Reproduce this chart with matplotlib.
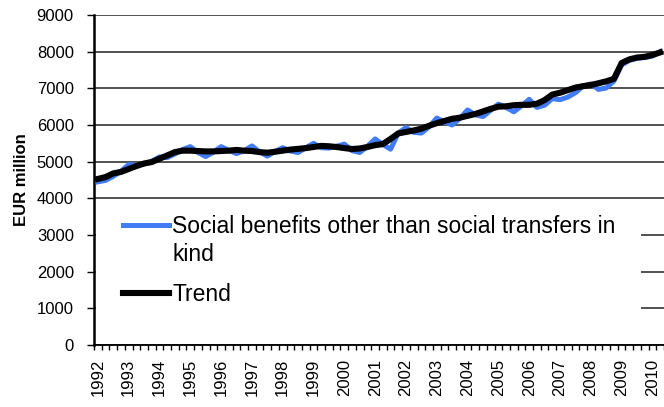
import matplotlib
matplotlib.use('Agg')
import matplotlib.pyplot as plt
from matplotlib.patches import Rectangle
from matplotlib.ticker import FixedLocator, NullFormatter
from matplotlib.legend_handler import HandlerLine2D
import numpy as np

plt.rcParams['font.family'] = ['Liberation Sans', 'DejaVu Sans']

# ---- data (quarterly, 1992Q1 .. 2010Q2), EUR million ----
years = list(range(1992, 2011))
benefits = [
    4450, 4490, 4600, 4740,   # 1992
    4920, 4900, 4940, 5010,   # 1993
    5130, 5110, 5210, 5330,   # 1994
    5410, 5250, 5140, 5260,   # 1995
    5410, 5310, 5220, 5300,   # 1996
    5430, 5270, 5150, 5280,   # 1997
    5380, 5290, 5250, 5380,   # 1998
    5500, 5380, 5370, 5420,   # 1999
    5480, 5300, 5250, 5420,   # 2000
    5620, 5470, 5340, 5780,   # 2001
    5930, 5800, 5780, 5950,   # 2002
    6190, 6080, 6000, 6180,   # 2003
    6410, 6280, 6230, 6400,   # 2004
    6570, 6480, 6360, 6520,   # 2005
    6700, 6480, 6540, 6720,   # 2006
    6690, 6760, 6880, 7060,   # 2007
    7120, 6970, 7010, 7200,   # 2008
    7640, 7760, 7820, 7840,   # 2009
    7880, 8000,               # 2010
]
trend = [
    4530, 4580, 4680, 4720,   # 1992
    4800, 4880, 4950, 4990,   # 1993
    5080, 5170, 5260, 5300,   # 1994
    5300, 5290, 5280, 5280,   # 1995
    5290, 5300, 5320, 5300,   # 1996
    5290, 5260, 5245, 5270,   # 1997
    5300, 5330, 5350, 5370,   # 1998
    5400, 5430, 5420, 5400,   # 1999
    5370, 5345, 5360, 5400,   # 2000
    5450, 5480, 5620, 5770,   # 2001
    5810, 5850, 5900, 5980,   # 2002
    6050, 6110, 6170, 6200,   # 2003
    6250, 6300, 6370, 6440,   # 2004
    6500, 6510, 6540, 6550,   # 2005
    6550, 6580, 6680, 6830,   # 2006
    6880, 6950, 7020, 7060,   # 2007
    7090, 7140, 7190, 7260,   # 2008
    7690, 7790, 7840, 7860,   # 2009
    7910, 7980,               # 2010
]
series_label = "Social benefits other than social transfers in\nkind"
trend_label = "Trend"
y_label = "EUR million"

n = len(trend)
x = np.arange(n) + 0.5

W, H = 664, 407
fig = plt.figure(figsize=(W / 100, H / 100), dpi=100)
ax = fig.add_axes([94 / W, 62 / H, 570 / W, 330 / H])

blue = '#3F7CF5'
l1, = ax.plot(x, benefits, color=blue, lw=3.6, label=series_label, zorder=3,
              solid_joinstyle='round')
l2, = ax.plot(x, trend, color='black', lw=4.4, label=trend_label, zorder=4,
              solid_joinstyle='round')

ax.set_xlim(0, 74)
ax.set_ylim(0, 9000)
ax.set_yticks(np.arange(0, 9001, 1000))
ax.yaxis.grid(True, color='#333333', lw=1.2)
ax.set_axisbelow(True)

# x axis: year labels centred on Q1, small tick marks between quarters
ax.xaxis.set_major_locator(FixedLocator([4 * k + 0.5 for k in range(len(years))]))
ax.set_xticklabels([str(y) for y in years], rotation=90, fontsize=12)
ax.xaxis.set_minor_locator(FixedLocator(np.arange(0, 75)))
ax.xaxis.set_minor_formatter(NullFormatter())
ax.tick_params(axis='x', which='major', length=0, pad=10)
ax.tick_params(axis='x', which='minor', length=3.6, width=1, color='black', direction='out')
ax.tick_params(axis='y', length=5, width=1, color='black', pad=9.5, labelsize=12)

for s in ['top', 'right']:
    ax.spines[s].set_visible(False)
ax.spines['left'].set_linewidth(1.8)
ax.spines['left'].set_color('black')
ax.spines['bottom'].set_linewidth(1.3)
ax.spines['bottom'].set_color('black')

ax.set_ylabel(y_label, fontsize=12, fontweight='bold')
ax.yaxis.set_label_coords((28.5 - 94) / 570, 0.5)

# white legend area that hides the gridlines behind it
ax.add_patch(Rectangle((0.003, (345 - 325) / 330), (640 - 95) / 570, (325 - 203) / 330,
                       transform=ax.transAxes, facecolor='white', edgecolor='none', zorder=1))


class FirstLineHandler(HandlerLine2D):
    """Put the legend line level with the first line of a two-line label."""
    def __init__(self, dy, **kw):
        super().__init__(**kw)
        self.dy = dy

    def create_artists(self, legend, orig_handle, xdescent, ydescent, width,
                       height, fontsize, trans):
        arts = super().create_artists(legend, orig_handle, xdescent, ydescent,
                                      width, height, fontsize, trans)
        for a in arts:
            a.set_ydata(np.asarray(a.get_ydata(), dtype=float) + self.dy)
        return arts


leg = ax.legend(handles=[l1, l2], loc='upper left',
                bbox_to_anchor=((123 - 94) / 570, (345 - 215) / 330),
                frameon=False, fontsize=16.5, handlelength=2.0, handletextpad=0.14,
                labelspacing=0.75, borderpad=0, borderaxespad=0,
                handler_map={l1: FirstLineHandler(11.5)})
for t in leg.get_texts():
    t.set_linespacing(1.26)

fig.savefig('out.png', dpi=100)
